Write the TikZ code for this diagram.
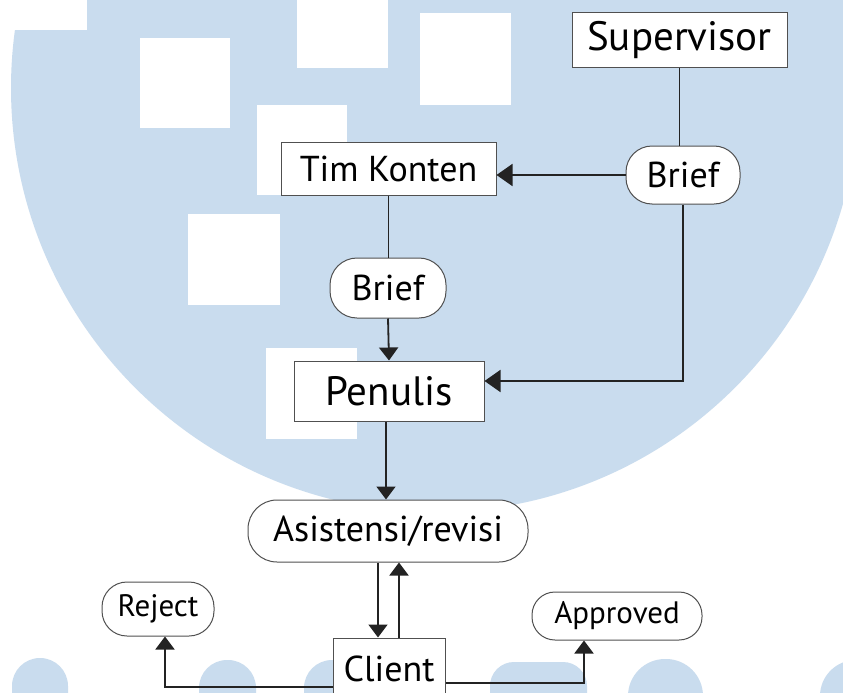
\documentclass[tikz,border=0pt]{standalone}
\usepackage{fontspec}
\setmainfont{PT Sans}
\usetikzlibrary{arrows.meta}
\definecolor{wm}{RGB}{201,220,238}
\definecolor{ln}{RGB}{35,35,35}
\definecolor{bd}{RGB}{80,80,80}
\tikzset{
  box/.style={draw=bd, line width=1pt, fill=white, inner sep=0pt, align=center},
  pill/.style={box, rounded corners=#1},
  big/.style={font=\fontsize{41}{44}\selectfont},
  mid/.style={font=\fontsize{36}{40}\selectfont},
  sml/.style={font=\fontsize{31}{34}\selectfont},
  conn/.style={draw=ln, line width=1.8pt},
  arrv/.style={conn, -{Triangle[width=19pt,length=13pt]}},
  arrh/.style={conn, -{Triangle[width=22pt,length=16pt]}},
}
\begin{document}
\begin{tikzpicture}[x=1pt,y=-1pt]
\clip (0,0) rectangle (843,693);
\fill[white] (0,0) rectangle (843,693);
% watermark
\fill[wm] (435,88) circle (424);
\fill[wm, rounded corners=28pt] (12,658) rectangle (68,740);
\fill[wm, rounded corners=28pt] (199,660) rectangle (256,740);
\fill[wm, rounded corners=28pt] (304,660) rectangle (361,740);
\fill[wm, rounded corners=24pt] (490,662) rectangle (587,740);
\fill[wm, rounded corners=37pt] (628,659) rectangle (703,740);
\fill[wm, rounded corners=36pt] (820,660) rectangle (892,740);
\fill[white] (0,-5) rectangle (87,30);
\fill[white] (140,38) rectangle (230,128);
\fill[white] (257,105) rectangle (347,195);
\fill[white] (188,214) rectangle (280,305);
\fill[white] (297,-5) rectangle (388,68);
\fill[white] (420,13) rectangle (511,105);
\fill[white] (266,348) rectangle (357,439);
% nodes
\node[box, big, minimum width=215pt, minimum height=55pt] (sup) at (679.5,40) {Supervisor};
\node[box, mid, minimum width=215pt, minimum height=53pt] (tk) at (388.5,168.5) {Tim Konten};
\node[pill=26pt, mid, minimum width=114pt, minimum height=58pt] (briefR) at (683,175) {Brief};
\node[pill=27pt, mid, minimum width=116pt, minimum height=60pt] (briefL) at (388,288) {Brief};
\node[box, big, minimum width=190pt, minimum height=60pt] (pen) at (389,391) {Penulis};
\node[pill=29pt, mid, minimum width=280pt, minimum height=62pt] (asis) at (388,531) {Asistensi/revisi};
\node[box, mid, minimum width=112pt, minimum height=62pt] (client) at (389,669) {Client};
\node[pill=25pt, sml, minimum width=112pt, minimum height=54pt] (reject) at (158,609) {Reject};
\node[pill=23pt, sml, minimum width=170pt, minimum height=48pt] (appr) at (617,616) {Approved};
% connectors
\draw[conn] (sup.south) -- (sup.south |- briefR.north);
\draw[arrh] (briefR.west) -- (briefR.west -| tk.east);
\draw[conn] (tk.south) -- (tk.south |- briefL.north);
\draw[arrv] (briefL.south) -- (pen.north);
\draw[arrh] (briefR.south) |- ([yshift=10pt]pen.east);
\draw[arrv] ([xshift=-3pt]pen.south) -- ([xshift=-3pt]pen.south |- asis.north);
\draw[arrv] ([xshift=-10pt]asis.south) -- ([xshift=-10pt]asis.south |- client.north);
\draw[arrv] ([xshift=10pt]client.north) -- ([xshift=10pt]client.north |- asis.south);
\draw[arrv] ([yshift=-18pt]client.west) -| ([xshift=7pt]reject.south);
\draw[arrv] ([yshift=-14pt]client.east) -| ([xshift=-33pt]appr.south);
\end{tikzpicture}
\end{document}
